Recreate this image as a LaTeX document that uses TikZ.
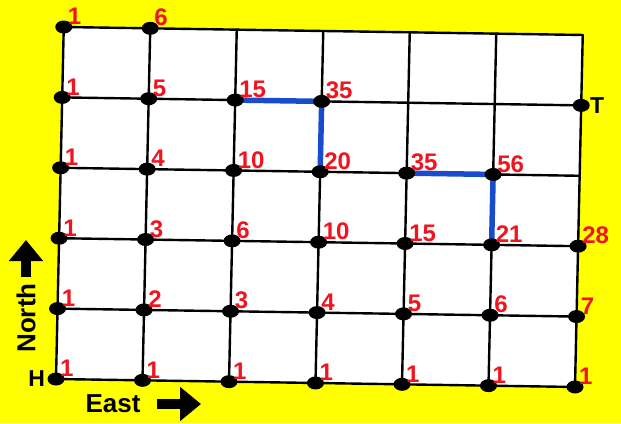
\documentclass[tikz,border=0pt]{standalone}
\usepackage{fontspec}
\setmainfont{Liberation Sans}
\usetikzlibrary{arrows.meta,positioning,shapes.geometric}
\definecolor{bgyellow}{RGB}{255,255,0}
\definecolor{numred}{RGB}{240,20,30}
\definecolor{pathblue}{RGB}{25,75,205}

\begin{document}
\begin{tikzpicture}[x=1pt,y=-1pt,line cap=round,
  grid line/.style={line width=2.4pt},
  dot/.style={ellipse,fill=black,minimum width=17pt,minimum height=13pt,inner sep=0pt},
  num/.style={text=numred,font=\fontsize{24}{24}\selectfont\bfseries,inner sep=0pt,anchor=south west},
  route/.style={pathblue,line width=5.5pt},
  block/.style={line width=10pt,line cap=butt,-{Triangle[length=21pt,width=33pt]}},
  tag/.style={font=\fontsize{23}{23}\selectfont\bfseries,inner sep=0pt},
  sign/.style={font=\fontsize{26}{26}\selectfont\bfseries,inner sep=0pt}]
\useasboundingbox (0,0) rectangle (621,423);
\fill[bgyellow] (0,0) rectangle (621,423);
% grid corners
\foreach \i in {0,...,6}
  \foreach \j in {0,...,5}
    \coordinate (g-\i-\j) at ({56+86.5*\i+1.55*\j},{379+1.33*\i-70.4*\j});
\fill[white] (g-0-0) -- (g-6-0) -- (g-6-5) -- (g-0-5) -- cycle;
\foreach \j in {0,...,5}
  \draw[grid line] (g-0-\j) -- (g-6-\j);
\foreach \i in {0,...,6}
  \draw[grid line] (g-\i-0) -- (g-\i-5);
% the two sums
\draw[route] (g-2-4) -- (g-3-4) -- (g-3-3);
\draw[route] (g-4-3) -- (g-5-3) -- (g-5-2);
% dots and path counts
\foreach \j/\vals in {0/{1,1,1,1,1,1,1},1/{1,2,3,4,5,6,7},2/{1,3,6,10,15,21,28},3/{1,4,10,20,35,56},4/{1,5,15,35},5/{1,6}}
  \foreach \v [count=\i from 0] in \vals {
    \node[dot] (d-\i-\j) at (g-\i-\j) {};
    \node[num] (n-\i-\j) at ([shift={(4,-2)}]g-\i-\j) {\v};
  }
\node[dot] (d-6-4) at (g-6-4) {};
\node[tag,left=2pt of d-0-0] (home) {H};
\node[tag,right=0pt of d-6-4] (target) {T};
% compass
\node[sign,rotate=90] (north) at (26,318) {North};
\coordinate (north tail) at (26,277);
\coordinate (north tip) at (26,240);
\draw[block] (north tail) -- (north tip);
\node[sign] (east) at (113,404) {East};
\coordinate (east tail) at (157,404);
\coordinate (east tip) at (201,404);
\draw[block] (east tail) -- (east tip);
\end{tikzpicture}
\end{document}
